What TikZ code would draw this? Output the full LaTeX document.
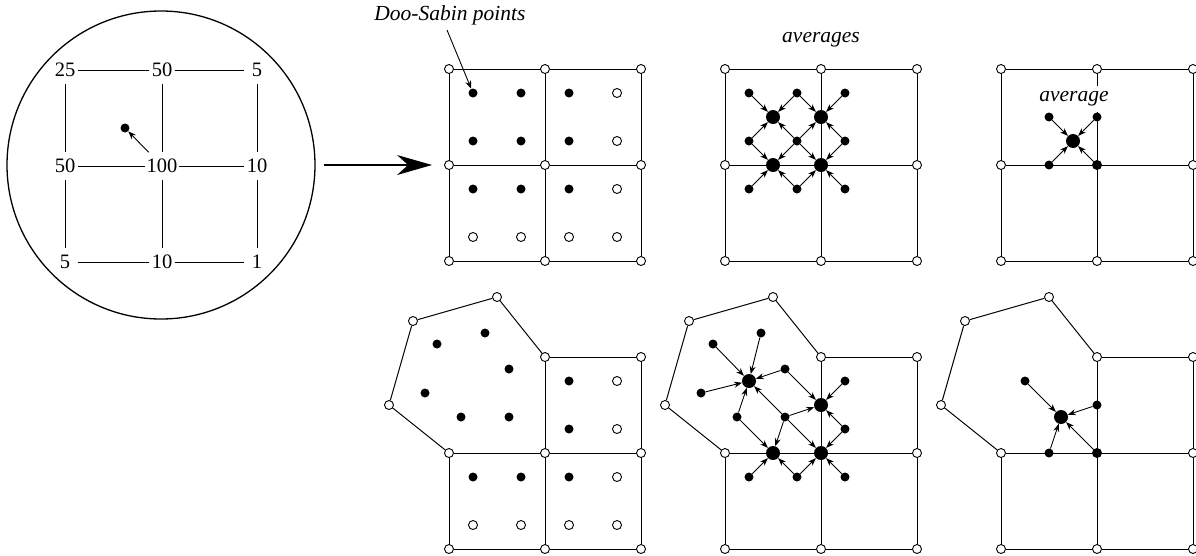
\documentclass[tikz,border=0pt]{standalone}
\usepackage{fontspec}
\setmainfont{Liberation Serif}
\usetikzlibrary{arrows.meta}
\begin{document}
\begin{tikzpicture}[x=1pt,y=-1pt,
  vtx/.style={circle,draw,fill=white,inner sep=0pt,minimum size=9pt,line width=0.9pt},
  dot/.style={circle,fill=black,inner sep=0pt,minimum size=9pt},
  odot/.style={circle,draw,fill=white,inner sep=0pt,minimum size=9pt,line width=0.9pt},
  big/.style={circle,fill=black,inner sep=0pt,minimum size=14pt},
  edge/.style={line width=1pt},
  arr/.style={line width=0.9pt,-{Stealth[length=8pt,width=6pt]}},
  num/.style={font=\fontsize{20.5}{24}\selectfont,inner xsep=1pt,inner ysep=0pt,minimum width=25pt,minimum height=27pt},
  lab/.style={font=\fontsize{21.5}{25}\selectfont\itshape}
]
\useasboundingbox (0,0) rectangle (1196,555);

% ---------- magnifier ----------
\node[circle,draw,line width=1.3pt,minimum size=308pt,inner sep=0pt] (lens) at (161,165) {};
\node[num] (n00) at (65,70) {25};
\node[num] (n10) at (162,70) {50};
\node[num] (n20) at (257,70) {5};
\node[num] (n01) at (65,166) {50};
\node[num] (n11) at (162,166) {100};
\node[num] (n21) at (257,166) {10};
\node[num] (n02) at (65,262) {5};
\node[num] (n12) at (162,262) {10};
\node[num] (n22) at (257,262) {1};
\foreach \j in {0,1,2} \draw[edge] (n0\j) -- (n1\j) -- (n2\j);
\foreach \i in {0,1,2} \draw[edge] (n\i0) -- (n\i1) -- (n\i2);
\node[dot] (ldot) at (125,128) {};
\draw[arr] (n11) -- (ldot);

% ---------- top grids ----------
\foreach \p/\s in {A/0,B/276,C/552}{
  \begin{scope}[xshift=\s pt]
    \foreach \i/\x in {0/449,1/545,2/641}
      \foreach \j/\y in {0/69,1/165,2/261}
        \node[vtx] (\p\i\j) at (\x,\y) {};
    \foreach \j in {0,1,2} \draw[edge] (\p0\j) -- (\p1\j) -- (\p2\j);
    \foreach \i in {0,1,2} \draw[edge] (\p\i0) -- (\p\i1) -- (\p\i2);
  \end{scope}
}

% big arrow
\draw[line width=1.5pt,shorten <=8pt,shorten >=12pt,-{Stealth[length=35pt,width=20pt,inset=11pt]}] (lens) -- (A01);

% panel A
\foreach \x in {473,521,569}
  \foreach \y in {93,141,189}
    \node[dot] (Ad\x\y) at (\x,\y) {};
\foreach \x/\y in {617/93,617/141,617/189,473/237,521/237,569/237,617/237}
  \node[odot] (Ao\x\y) at (\x,\y) {};
\node[lab] (dslab) at (450,15) {Doo-Sabin points};
\coordinate (dsa) at (447,30);
\draw[arr] (dsa) -- (Ad47393);

% panel B
\node[lab] (avgs) at (821,40) {averages};
\foreach \i/\x in {0/749,1/797,2/845}
  \foreach \j/\y in {0/93,1/141,2/189}
    \node[dot] (Bs\i\j) at (\x,\y) {};
\foreach \i/\x in {0/773,1/821}
  \foreach \j/\y in {0/117,1/165}
    \node[big] (Bb\i\j) at (\x,\y) {};
\foreach \i in {0,1}
  \foreach \j in {0,1}{
    \pgfmathtruncatemacro\ii{\i+1}
    \pgfmathtruncatemacro\jj{\j+1}
    \draw[arr] (Bs\i\j) -- (Bb\i\j);
    \draw[arr] (Bs\ii\j) -- (Bb\i\j);
    \draw[arr] (Bs\i\jj) -- (Bb\i\j);
    \draw[arr] (Bs\ii\jj) -- (Bb\i\j);
  }

% panel C
\node[lab,fill=white,inner xsep=1pt,inner ysep=6pt] (avg) at (1074,99) {average};
\node[dot] (Cs1) at (1049,117) {};
\node[dot] (Cs2) at (1097,117) {};
\node[dot] (Cs3) at (1049,165) {};
\node[dot] (Cs4) at (1097,165) {};
\node[big] (Cb) at (1073,141) {};
\foreach \k in {1,2,3,4} \draw[arr] (Cs\k) -- (Cb);

% ---------- bottom grids ----------
\foreach \p/\s in {D/0,E/276,F/552}{
  \begin{scope}[xshift=\s pt]
    \foreach \i/\x in {0/449,1/545,2/641}
      \foreach \j/\y in {1/453,2/549}
        \node[vtx] (\p\i\j) at (\x,\y) {};
    \node[vtx] (\p10) at (545,357) {};
    \node[vtx] (\p20) at (641,357) {};
    \node[vtx] (\p h1) at (389,405) {};
    \node[vtx] (\p h2) at (413,321) {};
    \node[vtx] (\p h3) at (497,297) {};
    \draw[edge] (\p01) -- (\p h1) -- (\p h2) -- (\p h3) -- (\p10);
    \draw[edge] (\p10) -- (\p20);
    \draw[edge] (\p01) -- (\p11) -- (\p21);
    \draw[edge] (\p02) -- (\p12) -- (\p22);
    \draw[edge] (\p01) -- (\p02);
    \draw[edge] (\p10) -- (\p11) -- (\p12);
    \draw[edge] (\p20) -- (\p21) -- (\p22);
  \end{scope}
}

% panel D
\foreach \x/\y in {437/344,485/333,509/369,425/393,461/417,509/417,569/381,569/429,473/477,521/477,569/477}
  \node[dot] (Dd\x\y) at (\x,\y) {};
\foreach \x/\y in {617/381,617/429,617/477,473/525,521/525,569/525,617/525}
  \node[odot] (Do\x\y) at (\x,\y) {};

% panel E
\node[dot] (Eh1) at (713,344) {};
\node[dot] (Eh2) at (761,333) {};
\node[dot] (Eh3) at (785,369) {};
\node[dot] (Eh4) at (701,393) {};
\node[dot] (Eh5) at (737,417) {};
\node[dot] (Eh6) at (785,417) {};
\node[dot] (Es1) at (845,381) {};
\node[dot] (Es2) at (845,429) {};
\node[dot] (Es3) at (749,477) {};
\node[dot] (Es4) at (797,477) {};
\node[dot] (Es5) at (845,477) {};
\node[big] (Ef) at (749,381) {};
\node[big] (Ee1) at (821,405) {};
\node[big] (Ee2) at (773,453) {};
\node[big] (Ev) at (821,453) {};
\foreach \k in {1,...,6} \draw[arr] (Eh\k) -- (Ef);
\foreach \a in {Eh3,Es1,Eh6,Es2} \draw[arr] (\a) -- (Ee1);
\foreach \a in {Eh5,Eh6,Es3,Es4} \draw[arr] (\a) -- (Ee2);
\foreach \a in {Eh6,Es2,Es4,Es5} \draw[arr] (\a) -- (Ev);

% panel F
\node[dot] (Fs1) at (1025,381) {};
\node[dot] (Fs2) at (1097,405) {};
\node[dot] (Fs3) at (1049,453) {};
\node[dot] (Fs4) at (1097,453) {};
\node[big] (Fb) at (1061,417) {};
\foreach \k in {1,2,3,4} \draw[arr] (Fs\k) -- (Fb);
\end{tikzpicture}
\end{document}
